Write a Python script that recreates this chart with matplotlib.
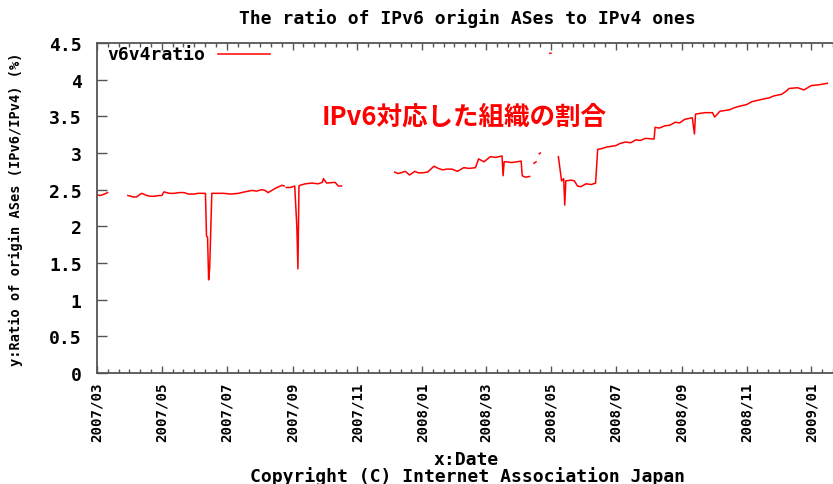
import numpy as np
import matplotlib
matplotlib.use("Agg")
import matplotlib.pyplot as plt
import matplotlib.dates as mdates
from datetime import datetime

# Daily ratio of IPv6 origin ASes to IPv4 ones (%); None marks missing data
dates = [
    "2007-03-01", "2007-03-04", "2007-03-08", "2007-03-11", None,
    "2007-03-30", "2007-04-02", "2007-04-04", "2007-04-07", "2007-04-10",
    "2007-04-12", "2007-04-17", "2007-04-20", "2007-04-24", "2007-04-28",
    "2007-05-01", "2007-05-03", "2007-05-08", "2007-05-13", "2007-05-17",
    "2007-05-22", "2007-05-26", "2007-05-31", "2007-06-04", "2007-06-10",
    "2007-06-11", "2007-06-12", "2007-06-13",
    "2007-06-14", "2007-06-15", "2007-06-16", "2007-06-17", "2007-06-22",
    "2007-06-28", "2007-07-05", "2007-07-12", "2007-07-18", "2007-07-25",
    "2007-07-29", "2007-08-03", "2007-08-06", "2007-08-09", "2007-08-16",
    "2007-08-22", "2007-08-24", None,
    "2007-08-26", "2007-08-30", "2007-09-03", "2007-09-05", "2007-09-06",
    "2007-09-07", "2007-09-08", "2007-09-13", "2007-09-19", "2007-09-25",
    "2007-09-29", "2007-09-30", "2007-10-03", "2007-10-11", "2007-10-14",
    "2007-10-17", None,
    "2007-12-06", "2007-12-09", "2007-12-12", "2007-12-16", "2007-12-20",
    "2007-12-25", "2007-12-28", "2008-01-01", "2008-01-06", "2008-01-12",
    "2008-01-16", "2008-01-20", "2008-01-24", "2008-01-29", "2008-02-03",
    "2008-02-09", "2008-02-14", "2008-02-20", "2008-02-23", "2008-02-28",
    "2008-03-05", "2008-03-10", "2008-03-16", "2008-03-17", "2008-03-18",
    "2008-03-20", "2008-03-25", "2008-03-30", "2008-04-03", "2008-04-04",
    "2008-04-07", "2008-04-11", None,
    "2008-04-15", "2008-04-17", None,
    "2008-04-20", "2008-04-21", None,
    "2008-04-30", "2008-05-01", None,
    "2008-05-08", "2008-05-11", "2008-05-13", "2008-05-14", "2008-05-15",
    "2008-05-20", "2008-05-23", "2008-05-26", "2008-05-29", "2008-06-03",
    "2008-06-08", "2008-06-12", "2008-06-14", "2008-06-18", "2008-06-22",
    "2008-06-26", "2008-07-01", "2008-07-05", "2008-07-10", "2008-07-15",
    "2008-07-20", "2008-07-24", "2008-07-29", "2008-08-06", "2008-08-07",
    "2008-08-11", "2008-08-16", "2008-08-21", "2008-08-26", "2008-08-30",
    "2008-09-04", "2008-09-11", "2008-09-13", "2008-09-14", "2008-09-18",
    "2008-09-23", "2008-09-30", "2008-10-02", "2008-10-07", "2008-10-12",
    "2008-10-16", "2008-10-21", "2008-10-26", "2008-11-01", "2008-11-06",
    "2008-11-12", "2008-11-18", "2008-11-22", "2008-11-27", "2008-12-04",
    "2008-12-08", "2008-12-11", "2008-12-19", "2008-12-25", "2009-01-01",
    "2009-01-08", "2009-01-16",
]
ratio = [
    2.43, 2.42, 2.44, 2.46, None,
    2.42, 2.41, 2.40, 2.40, 2.43,
    2.45, 2.42, 2.41, 2.41, 2.42,
    2.42, 2.47, 2.45, 2.45, 2.46,
    2.46, 2.44, 2.44, 2.45, 2.45,
    2.45, 1.87, 1.85,
    1.27, 1.43, 1.94, 2.45, 2.45,
    2.45, 2.44, 2.45, 2.47, 2.49,
    2.48, 2.50, 2.49, 2.46, 2.52,
    2.56, 2.55, None,
    2.53, 2.53, 2.55, 1.99, 1.42,
    2.55, 2.56, 2.58, 2.59, 2.58,
    2.60, 2.65, 2.59, 2.60, 2.55,
    2.55, None,
    2.74, 2.72, 2.73, 2.75, 2.70,
    2.75, 2.73, 2.73, 2.74, 2.82,
    2.79, 2.77, 2.78, 2.78, 2.75,
    2.80, 2.79, 2.80, 2.92, 2.88,
    2.95, 2.94, 2.96, 2.69, 2.88,
    2.88, 2.87, 2.88, 2.89, 2.69,
    2.67, 2.68, None,
    2.86, 2.88, None,
    2.99, 3.00, None,
    4.36, 4.36, None,
    2.95, 2.62, 2.65, 2.29, 2.62,
    2.63, 2.62, 2.55, 2.54, 2.58,
    2.57, 2.59, 3.05, 3.06, 3.08,
    3.09, 3.10, 3.13, 3.15, 3.14,
    3.18, 3.17, 3.20, 3.19, 3.35,
    3.34, 3.37, 3.38, 3.42, 3.41,
    3.46, 3.48, 3.26, 3.53, 3.54,
    3.55, 3.55, 3.49, 3.57, 3.58,
    3.59, 3.62, 3.64, 3.66, 3.70,
    3.72, 3.74, 3.75, 3.78, 3.80,
    3.84, 3.88, 3.89, 3.86, 3.92,
    3.93, 3.95,
]
y_ticks = [0, 0.5, 1, 1.5, 2, 2.5, 3, 3.5, 4, 4.5]
y_tick_labels = ["0", "0.5", "1", "1.5", "2", "2.5", "3", "3.5", "4", "4.5"]
x_tick_dates = ["2007-03-01", "2007-05-01", "2007-07-01", "2007-09-01",
                "2007-11-01", "2008-01-01", "2008-03-01", "2008-05-01",
                "2008-07-01", "2008-09-01", "2008-11-01", "2009-01-01"]

mono = "DejaVu Sans Mono"
big = 13

x = [datetime.strptime(d, "%Y-%m-%d") if d else None for d in dates]
xn = np.array([mdates.date2num(v) if v else np.nan for v in x])
yn = np.array([v if v is not None else np.nan for v in ratio])

fig = plt.figure(figsize=(8.33, 4.85), dpi=100)
ax = fig.add_axes([97 / 833, 111 / 485, 1 - 97 / 833, 330 / 485])

ax.plot(xn, yn, color="#ff0000", lw=1.1)

ax.set_ylim(0, 4.5)
ax.set_xlim(mdates.date2num(datetime(2007, 3, 1)),
            mdates.date2num(datetime(2009, 1, 16)))

major = [mdates.date2num(datetime.strptime(d, "%Y-%m-%d")) for d in x_tick_dates]
ax.set_xticks(major)
ax.set_xticklabels([d[:4] + "/" + d[5:7] for d in x_tick_dates],
                   rotation=90, family=mono, fontweight="bold", fontsize=10.2)
minor = []
for a, b in zip(major[:-1], major[1:]):
    minor += list(np.linspace(a, b, 7)[1:-1])
minor += list(np.arange(1, 3) * (major[-1] - major[-2]) / 6 + major[-1])
ax.set_xticks(minor, minor=True)

ax.set_yticks(y_ticks)
ax.set_yticklabels(y_tick_labels, family=mono, fontweight="bold", fontsize=big)

spine_c = "#555555"
for s in ("left", "bottom", "top"):
    ax.spines[s].set_color(spine_c)
    ax.spines[s].set_linewidth(1.3)
ax.spines["right"].set_visible(False)

ax.tick_params(axis="x", which="major", direction="in", length=5, width=1,
               color=spine_c, top=True, pad=6)
ax.tick_params(axis="x", which="minor", direction="in", length=3, width=1,
               color=spine_c, top=True)
ax.tick_params(axis="y", which="major", direction="in", length=7, width=1,
               color=spine_c, pad=11)

ax.set_ylabel("y:Ratio of origin ASes (IPv6/IPv4) (%)", family=mono,
              fontweight="bold", fontsize=9.8, labelpad=19)

# two-line x caption placed at fixed figure positions
fig.text(466 / 833, 1 - 460 / 485, "x:Date", ha="center", va="center",
         family=mono, fontweight="bold", fontsize=big)
fig.text(467 / 833, 1 - 477 / 485, "Copyright (C) Internet Association Japan",
         ha="center", va="center", family=mono, fontweight="bold", fontsize=big)

fig.text(467 / 833, 1 - 19 / 485, "The ratio of IPv6 origin ASes to IPv4 ones",
         ha="center", va="center", family=mono, fontweight="bold", fontsize=big)

# key entry drawn gnuplot-style: label first, then the line sample
ax.text(10 / 736, 1 - 11 / 330, "v6v4ratio", transform=ax.transAxes,
        ha="left", va="center", family=mono, fontweight="bold", fontsize=big)
ax.plot([121 / 736, 173 / 736], [1 - 11 / 330] * 2, transform=ax.transAxes,
        color="#ff0000", lw=1.1)

ax.text((322 - 97) / 736, 1 - 73 / 330, "IPv6対応した組織の割合",
        transform=ax.transAxes, ha="left", va="center", color="#ff0000",
        fontsize=18.4, fontweight="bold",
        family=["Noto Sans CJK JP", "DejaVu Sans"])

fig.savefig("out.png", dpi=100)
